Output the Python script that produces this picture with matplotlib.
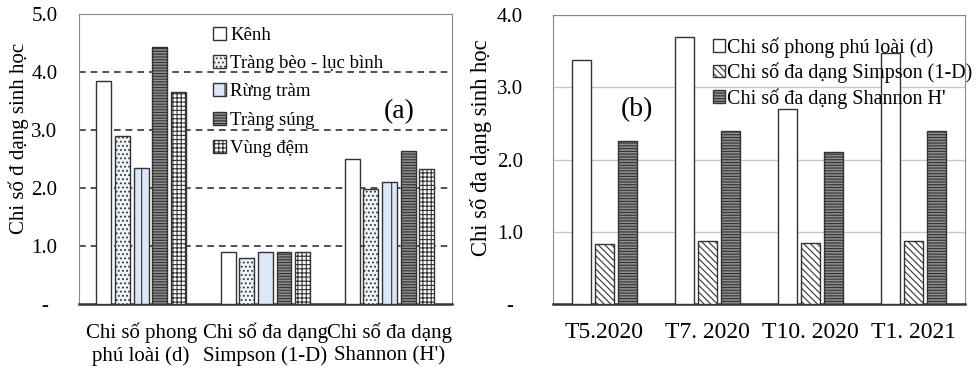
import matplotlib
matplotlib.use("Agg")
import matplotlib.pyplot as plt
import numpy as np

plt.rcParams["font.family"] = ["Liberation Serif", "DejaVu Serif"]
plt.rcParams["hatch.linewidth"] = 0.8

# panel (a)
groups_a = ["Chi số phong\nphú loài (d)", "Chi số đa dạng\nSimpson (1-D)", "Chi số đa dạng\nShannon (H')"]
habitats = ["Kênh", "Tràng bèo - lục bình", "Rừng tràm", "Tràng súng", "Vùng đệm"]
kenh = [3.85, 0.89, 2.50]
trang_beo = [2.90, 0.80, 1.98]
rung_tram = [2.34, 0.89, 2.10]
trang_sung = [4.43, 0.89, 2.64]
vung_dem = [3.66, 0.89, 2.33]
yticks_a = ["-", "1.0", "2.0", "3.0", "4.0", "5.0"]

# panel (b)
months = ["T5.2020", "T7. 2020", "T10. 2020", "T1. 2021"]
indices_b = ["Chi số phong phú loài (d)", "Chi số đa dạng Simpson (1-D)", "Chi số đa dạng Shannon H'"]
richness = [3.38, 3.69, 2.70, 3.48]
simpson = [0.83, 0.87, 0.84, 0.87]
shannon = [2.26, 2.39, 2.10, 2.39]
yticks_b = ["-", "1.0", "2.0", "3.0", "4.0"]

styles_a = [
    dict(facecolor="white", hatch=None),
    dict(facecolor="#eef3f8", hatch="...."),
    dict(facecolor="#dce8f8", hatch="|"),
    dict(facecolor="#8c8c8c", hatch="------"),
    dict(facecolor="white", hatch="++++"),
]
styles_b = [
    dict(facecolor="white", hatch=None),
    dict(facecolor="white", hatch="\\\\\\\\\\"),
    dict(facecolor="#8c8c8c", hatch="------"),
]

fig = plt.figure(figsize=(9.78, 3.74), dpi=100)
ax1 = fig.add_axes([0.0808, 0.187, 0.381, 0.776])
ax2 = fig.add_axes([0.5654, 0.187, 0.4213, 0.773])

# ---- (a)
x = np.arange(len(groups_a))
slot, w = 0.15, 0.12
for i, vals in enumerate([kenh, trang_beo, rung_tram, trang_sung, vung_dem]):
    ax1.bar(x + (i - 2) * slot, vals, w, edgecolor="#333333", linewidth=1.0,
            label=habitats[i], zorder=3, **styles_a[i])
ax1.set_xlim(-0.5, 2.5)
ax1.set_ylim(0, 5)
ax1.set_yticks(np.arange(6))
ax1.set_yticklabels(yticks_a, ha="center")
ax1.set_xticks(x)
ax1.set_xticklabels(groups_a, fontsize=15, linespacing=1.25)
for yv in [1, 2, 3, 4]:
    ax1.axhline(yv, color="#333333", ls=(0, (4, 3)), lw=1.2, zorder=1)
ax1.set_ylabel("Chi số đ dạng sinh học", fontsize=15)
ax1.yaxis.set_label_coords(-0.133, 0.57)
ax1.text(2.08, 3.31, "(a)", fontsize=20, ha="center", va="center")
ax1.legend(loc="upper left", bbox_to_anchor=(0.33, 0.995), frameon=False, fontsize=13.5,
           handlelength=0.7, handleheight=0.7, handletextpad=0.2, labelspacing=0.6,
           borderaxespad=0.2)
ax1.tick_params(axis="y", length=0, labelsize=15, pad=25)

# ---- (b)
x2 = np.arange(len(months))
slot2, w2 = 0.22, 0.185
for i, vals in enumerate([richness, simpson, shannon]):
    ax2.bar(x2 + (i - 1) * slot2, vals, w2, edgecolor="#333333", linewidth=1.0,
            label=indices_b[i], zorder=3, **styles_b[i])
ax2.set_xlim(-0.5, 3.5)
ax2.set_ylim(0, 4)
ax2.set_yticks(np.arange(5))
ax2.set_yticklabels(yticks_b, ha="center")
ax2.set_xticks(x2)
ax2.set_xticklabels(months, fontsize=17)
ax2.grid(axis="y", color="#c8c8c8", lw=1.0, zorder=0)
ax2.set_ylabel("Chi số đa dạng sinh học", fontsize=16.3)
ax2.yaxis.set_label_coords(-0.148, 0.54)
ax2.text(0.316, 2.69, "(b)", fontsize=20, ha="center", va="center")
ax2.legend(loc="upper left", bbox_to_anchor=(0.36, 0.965), frameon=False, fontsize=14.5,
           handlelength=0.6, handleheight=0.6, handletextpad=0.1, labelspacing=0.25,
           borderaxespad=0.2)
ax2.tick_params(axis="y", length=0, labelsize=15, pad=31)

for ax in (ax1, ax2):
    ax.tick_params(axis="x", length=0, pad=13)
    for s in ("top", "right", "left"):
        ax.spines[s].set_color("#8a8a8a")
    ax.spines["bottom"].set_color("#333333")
    ax.spines["bottom"].set_linewidth(1.8)
    ax.set_axisbelow(True)

fig.savefig("out.png", dpi=100)
